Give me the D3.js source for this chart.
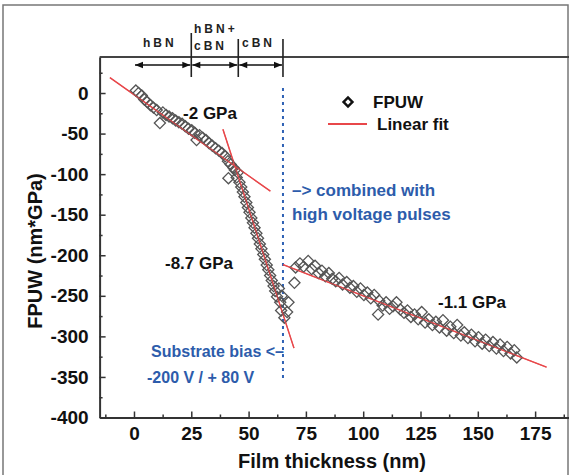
<!DOCTYPE html>
<html>
<head>
<meta charset="utf-8">
<script src="https://cdn.jsdelivr.net/npm/d3@7"></script>
<style>
  html, body { margin: 0; padding: 0; background: #fff; }
  svg { display: block; font-family: "Liberation Sans", Arial, sans-serif; font-weight: bold; }
</style>
</head>
<body>
<svg id="chart" width="569" height="475"></svg>
<script>
// FPUW vs. film thickness: hBN -> hBN+cBN -> cBN growth stages
const xTicks = [0, 25, 50, 75, 100, 125, 150, 175];
const yTicks = [0, -50, -100, -150, -200, -250, -300, -350, -400];

// Measured FPUW points [thickness nm, FPUW nm*GPa]
const stage1Points = [
  [0.8, 3], [2.0, 0], [3.4, -3], [4.5, -8], [5.8, -11], [7.2, -15], [8.5, -18],
  [9.9, -21], [11.3, -37], [12.6, -24], [14.0, -27], [15.3, -29], [16.8, -31],
  [18.2, -34], [19.6, -36], [21.0, -38], [22.4, -41], [23.8, -44], [25.2, -46],
  [26.5, -49], [27.3, -58], [28.6, -52], [30.0, -55], [31.4, -58], [32.8, -62],
  [34.2, -65], [35.6, -68], [37.0, -71], [38.4, -74], [39.8, -78], [41.2, -105],
  [41.0, -84], [42.2, -88], [43.4, -92]
];
const stage2Points = [
  [44.0, -95], [44.8, -104], [45.3, -98], [46.0, -110], [46.8, -116], [47.5, -122],
  [48.2, -128], [49.0, -135], [49.7, -141], [50.4, -147], [51.2, -154], [51.9, -160],
  [52.6, -166], [53.4, -173], [54.1, -179], [54.9, -186], [55.6, -192], [56.4, -199],
  [57.1, -205], [57.9, -212], [58.6, -218], [59.4, -225], [60.1, -231], [60.9, -238],
  [61.6, -244], [62.4, -251], [63.2, -241], [63.8, -258], [64.5, -250], [64.2, -268],
  [65.6, -277], [66.8, -270], [67.4, -258], [70.0, -234]
];
const stage3Points = [
  [70.5, -215], [72.4, -210], [74.0, -214], [76.0, -207], [77.5, -217], [79.0, -213],
  [80.5, -222], [82.0, -219], [83.5, -226], [85.0, -222], [86.5, -229], [88.0, -232],
  [89.5, -228], [91.0, -236], [92.8, -233], [94.2, -240], [95.7, -238], [97.2, -245],
  [98.8, -241], [100.3, -249], [101.8, -246], [103.3, -253], [104.8, -249], [106.5, -273],
  [107.0, -256], [108.5, -262], [110.0, -258], [111.5, -266], [113.0, -263], [114.5, -258],
  [116.2, -267], [117.8, -271], [119.3, -268], [120.8, -276], [122.4, -273], [124.0, -279],
  [125.5, -270], [127.0, -283], [128.6, -279], [130.2, -286], [131.7, -282], [133.3, -289],
  [134.8, -280], [136.4, -293], [138.0, -288], [139.5, -296], [141.0, -286], [142.6, -299],
  [144.1, -295], [145.7, -302], [147.2, -298], [148.8, -306], [150.3, -301], [151.9, -309],
  [153.4, -304], [155.0, -312], [156.6, -307], [158.1, -315], [159.7, -310], [161.2, -318],
  [162.8, -313], [164.3, -321], [165.9, -317], [167.0, -326]
];

// Linear fits: slope (GPa), intercept, x-range drawn, label
const fitSlopes = [-2, -8.7, -1.1];
const fitIntercepts = [-2, 292.8, -140];
const fitRanges = [[-10.5, 59.5], [38.8, 69.8], [65, 180]];
const fitLabels = ["-2 GPa", "-8.7 GPa", "-1.1 GPa"];

// Growth-stage boundaries (nm)
const stageBounds = [0, 25, 45.5, 65];
const biasSwitch = 65;

const svg = d3.select("#chart");
const x = d3.scaleLinear().domain([-15, 190]).range([99.6, 569.5]);
const y = d3.scaleLinear().domain([-400, 44.4]).range([417.5, 57]);
const plain = d => String(d);

// outer frame
svg.append("rect").attr("x", 3).attr("y", 5).attr("width", 565).attr("height", 480)
  .attr("fill", "#fff").attr("stroke", "#777").attr("stroke-width", 1.5);

// top border of plot
svg.append("line").attr("x1", x.range()[0]).attr("x2", 569).attr("y1", 57).attr("y2", 57)
  .attr("stroke", "#444").attr("stroke-width", 2);

// axes
const axisColor = "#333";
svg.append("g").attr("transform", `translate(0,${y(-400)})`)
  .call(d3.axisBottom(x).tickValues(xTicks).tickFormat(plain).tickSize(-6).tickSizeOuter(0).tickPadding(9));
const xMinor = d3.range(-12.5, 190, 25);
svg.append("g").attr("transform", `translate(0,${y(-400)})`)
  .call(d3.axisBottom(x).tickValues(xMinor).tickSize(-3).tickSizeOuter(0).tickFormat(""))
  .select(".domain").remove();
svg.append("g").attr("transform", `translate(${x(-15)},0)`)
  .call(d3.axisLeft(y).tickValues(yTicks).tickFormat(plain).tickSize(-6).tickSizeOuter(0).tickPadding(11));
const yMinor = d3.range(-375, 40, 50);
svg.append("g").attr("transform", `translate(${x(-15)},0)`)
  .call(d3.axisLeft(y).tickValues(yMinor).tickSize(-3).tickSizeOuter(0).tickFormat(""))
  .select(".domain").remove();
svg.selectAll(".domain").attr("stroke", axisColor).attr("stroke-width", 2);
svg.selectAll(".tick line").attr("stroke", axisColor).attr("stroke-width", 1.5);
svg.selectAll(".tick text").attr("fill", "#111").attr("font-size", 19)
  .attr("font-weight", "bold").attr("font-family", "'Liberation Sans', Arial, sans-serif");

// axis titles
svg.append("text").attr("x", 332).attr("y", 468).attr("text-anchor", "middle")
  .attr("font-size", 20).attr("fill", "#111").text("Film thickness (nm)");
svg.append("text").attr("transform", "translate(42,251) rotate(-90)")
  .attr("text-anchor", "middle").attr("font-size", 20).attr("fill", "#111").text("FPUW (nm*GPa)");

// stage boundary markers above the plot
const markTop = [33, 39, 39];
stageBounds.slice(1).forEach((b, i) => {
  svg.append("line").attr("x1", x(b)).attr("x2", x(b)).attr("y1", markTop[i]).attr("y2", 77)
    .attr("stroke", "#222").attr("stroke-width", 1.6);
});
const defs = svg.append("defs");
defs.append("marker").attr("id", "ah").attr("viewBox", "0 0 10 10").attr("refX", 10).attr("refY", 5)
  .attr("markerWidth", 9).attr("markerHeight", 8).attr("markerUnits", "userSpaceOnUse")
  .attr("orient", "auto-start-reverse")
  .append("path").attr("d", "M0,1 L10,5 L0,9 Z").attr("fill", "#111");
for (let i = 0; i < stageBounds.length - 1; i++) {
  svg.append("line").attr("x1", x(stageBounds[i]) + 1).attr("x2", x(stageBounds[i + 1]) - 1)
    .attr("y1", 65).attr("y2", 65).attr("stroke", "#111").attr("stroke-width", 1.5)
    .attr("marker-start", "url(#ah)").attr("marker-end", "url(#ah)");
}
const stageText = svg.append("g").attr("font-size", 12).attr("fill", "#222").attr("letter-spacing", 3);
stageText.append("text").attr("x", 143).attr("y", 47).text("hBN");
stageText.append("text").attr("x", 194).attr("y", 33).text("hBN+");
stageText.append("text").attr("x", 194).attr("y", 50).text("cBN");
stageText.append("text").attr("x", 242).attr("y", 47).text("cBN");

// bias switch line
svg.append("line").attr("x1", x(biasSwitch)).attr("x2", x(biasSwitch)).attr("y1", 88).attr("y2", 378)
  .attr("stroke", "#2f62b5").attr("stroke-width", 2).attr("stroke-dasharray", "3,4");

// fit lines
const red = "#e8474a";
function drawFits(width, opacity) {
  fitSlopes.forEach((m, i) => {
    const [a, b] = fitRanges[i];
    svg.append("line")
      .attr("x1", x(a)).attr("y1", y(m * a + fitIntercepts[i]))
      .attr("x2", x(b)).attr("y2", y(m * b + fitIntercepts[i]))
      .attr("stroke", red).attr("stroke-width", width).attr("opacity", opacity);
  });
}
drawFits(1.4, 1);

// data points
const diamond = d3.symbol().type(d3.symbolSquare).size(62);
const allPoints = stage1Points.concat(stage2Points, stage3Points);
svg.append("g").selectAll("path").data(allPoints).join("path")
  .attr("d", diamond)
  .attr("transform", d => `translate(${x(d[0])},${y(d[1])}) rotate(45)`)
  .attr("fill", "none").attr("stroke", "#555").attr("stroke-width", 1.3);

// fits again on top so they show through the markers
drawFits(1.1, 0.8);

// slope labels
const labelPos = [[210, 119], [199, 269], [472, 308]];
fitLabels.forEach((t, i) => {
  svg.append("text").attr("x", labelPos[i][0]).attr("y", labelPos[i][1])
    .attr("text-anchor", "middle").attr("font-size", 17).attr("fill", "#111").text(t);
});

// legend
svg.append("path").attr("d", d3.symbol().type(d3.symbolSquare).size(40))
  .attr("transform", "translate(348,102) rotate(45)")
  .attr("fill", "none").attr("stroke", "#111").attr("stroke-width", 2.4);
svg.append("text").attr("x", 373).attr("y", 108).attr("font-size", 17).attr("fill", "#111").text("FPUW");
svg.append("line").attr("x1", 328).attr("x2", 367).attr("y1", 124).attr("y2", 124)
  .attr("stroke", red).attr("stroke-width", 1.8);
svg.append("text").attr("x", 377).attr("y", 130).attr("font-size", 17).attr("fill", "#111").text("Linear fit");

// bias annotations
const blue = "#2d5cab";
svg.append("text").attr("x", 292).attr("y", 196).attr("font-size", 17).attr("fill", blue).text("–> combined with");
svg.append("text").attr("x", 292).attr("y", 220).attr("font-size", 17).attr("fill", blue).text("high voltage pulses");
svg.append("text").attr("x", 284).attr("y", 357).attr("text-anchor", "end").attr("font-size", 16)
  .attr("fill", blue).text("Substrate bias <–");
svg.append("text").attr("x", 147).attr("y", 383).attr("font-size", 16).attr("fill", blue).text("-200 V / + 80 V");
</script>
</body>
</html>
